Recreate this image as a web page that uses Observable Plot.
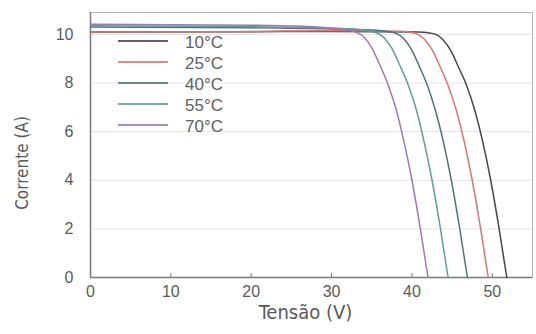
<!DOCTYPE html>
<html>
<head>
<meta charset="utf-8">
<script src="https://cdn.jsdelivr.net/npm/d3@7"></script>
<script src="https://cdn.jsdelivr.net/npm/@observablehq/plot@0.6"></script>
<style>
  html, body { margin: 0; padding: 0; background: #fff; }
  #wrap { position: relative; width: 536px; height: 334px; }
  #legend { position: absolute; left: 118px; top: 32px; font-family: "Liberation Sans", Arial, sans-serif; font-size: 17px; color: #606060; }
  .row { display: flex; align-items: center; height: 21px; }
  .sw { width: 50px; height: 2px; margin-right: 17px; position: relative; top: -2px; opacity: 0.85; }
  svg text { font-family: "Liberation Sans", Arial, sans-serif; }
  .ttl text { font-family: "DejaVu Sans", sans-serif; font-stretch: condensed; }
</style>
</head>
<body>
<div id="wrap"><div id="legend"></div></div>
<script>
// Series labels and colors
const series = ["10°C", "25°C", "40°C", "55°C", "70°C"];
const colors = ["#474747", "#d87474", "#52717f", "#5e9f98", "#9d78ba"];

// Tensão (V) and Corrente (A) points
const v10 = [0, 20, 30, 40.8, 42.8, 43.8, 44.8, 45.8, 46.8, 47.8, 48.8, 49.8, 50.8, 51.8];
const i10 = [10.1, 10.11, 10.12, 10.1, 10.02, 9.8, 9.35, 8.65, 7.9, 6.9, 5.6, 4.0, 2.1, 0];
const v25 = [0, 20, 30, 38.5, 40.5, 41.5, 42.5, 43.5, 44.5, 45.5, 46.5, 47.5, 48.5, 49.5];
const i25 = [10.1, 10.12, 10.15, 10.13, 10.04, 9.82, 9.37, 8.67, 7.9, 6.9, 5.6, 4.0, 2.1, 0];
const v40 = [0, 20, 30, 35.9, 37.9, 38.9, 39.9, 40.9, 41.9, 42.9, 43.9, 44.9, 45.9, 46.9];
const i40 = [10.3, 10.27, 10.22, 10.16, 10.06, 9.85, 9.4, 8.7, 7.92, 6.9, 5.6, 4.0, 2.1, 0];
const v55 = [0, 20, 28, 33.5, 35.5, 36.5, 37.5, 38.5, 39.5, 40.5, 41.5, 42.5, 43.5, 44.5];
const i55 = [10.35, 10.32, 10.27, 10.2, 10.08, 9.87, 9.42, 8.72, 7.95, 6.95, 5.6, 4.0, 2.1, 0];
const v70 = [0, 20, 26, 31, 33, 34, 35, 36, 37, 38, 39, 40, 41, 42];
const i70 = [10.42, 10.38, 10.34, 10.22, 10.1, 9.9, 9.45, 8.75, 7.95, 6.95, 5.6, 4.0, 2.1, 0];

// Axis ticks
const xTicks = [0, 10, 20, 30, 40, 50];
const yTicks = [0, 2, 4, 6, 8, 10];

const curves = [[v10, i10], [v25, i25], [v40, i40], [v55, i55], [v70, i70]];
const data = curves.flatMap(([vs, is], k) => vs.map((v, j) => ({serie: series[k], V: v, I: is[j]})));

const chart = Plot.plot({
  width: 536,
  height: 334,
  marginLeft: 90,
  marginRight: 4,
  marginTop: 12,
  marginBottom: 57,
  x: {domain: [0, 55]},
  y: {domain: [0, 10.9]},
  color: {domain: series, range: colors},
  marks: [
    Plot.gridY([2, 4, 6, 8, 10], {stroke: "#e4e4e4", strokeOpacity: 1}),
    Plot.frame({stroke: "#b4b4b4"}),
    Plot.axisY({ticks: yTicks, tickSize: 0, tickPadding: 17, fontSize: 16, fill: "#5a5a5a", label: null}),
    Plot.axisX({ticks: xTicks, tickSize: 0, tickPadding: 8, fontSize: 16, fill: "#5a5a5a", label: null}),
    Plot.axisX({ticks: [10, 20, 30, 40, 50], tickSize: 4, dy: -4, text: null, stroke: "#777", label: null}),
    Plot.ruleX([0], {stroke: "#7a7a7a", strokeWidth: 1.5}),
    Plot.ruleY([0], {stroke: "#7a7a7a", strokeWidth: 1.5}),
    Plot.line(data, {x: "V", y: "I", z: "serie", stroke: "serie", strokeWidth: 1.5, curve: "monotone-x"}),
    Plot.text(["Tensão (V)"], {frameAnchor: "bottom", lineAnchor: "bottom", dx: -6, dy: 41, fontSize: 20, fill: "#5a5a5a", className: "ttl"}),
    Plot.text(["Corrente (A)"], {frameAnchor: "left", textAnchor: "middle", dx: -68, dy: 18, rotate: -90, fontSize: 17, fill: "#5a5a5a", className: "ttl"})
  ]
});
document.getElementById("wrap").prepend(chart);

const legend = document.getElementById("legend");
series.forEach((s, k) => {
  const row = document.createElement("div");
  row.className = "row";
  const sw = document.createElement("div");
  sw.className = "sw";
  sw.style.background = colors[k];
  const t = document.createElement("span");
  t.textContent = s;
  row.append(sw, t);
  legend.append(row);
});
</script>
</body>
</html>
